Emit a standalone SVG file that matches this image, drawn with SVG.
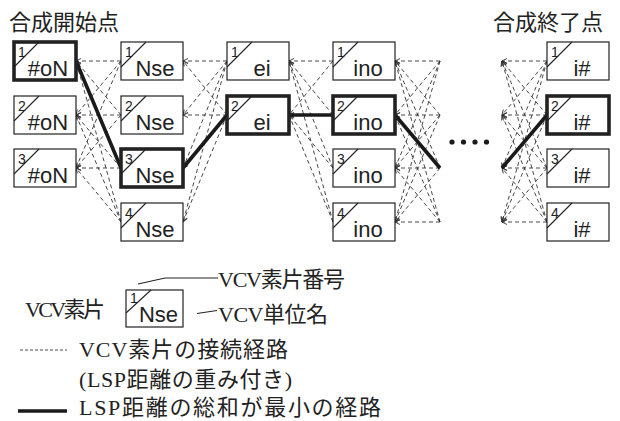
<svg xmlns="http://www.w3.org/2000/svg" width="620" height="421" viewBox="0 0 620 421">
<defs>
<marker id="arr" viewBox="0 0 6 6" refX="5.5" refY="3" markerWidth="6" markerHeight="6" markerUnits="userSpaceOnUse" orient="auto">
<path d="M0.5,0.5 L5.5,3 L0.5,5.5" fill="none" stroke="#333" stroke-width="0.9"/>
</marker>
</defs>
<style>
.box{fill:#fff;stroke:#222;stroke-width:1.2}
.bold{stroke-width:3.6}
.slash{stroke:#222;stroke-width:1.1}
.num{font-family:"Liberation Sans",Arial,sans-serif;font-size:14px;fill:#222}
.nm{font-family:"Liberation Sans",Arial,sans-serif;font-size:22px;fill:#222;text-anchor:middle}
.dash{stroke:#333;stroke-width:0.9;stroke-dasharray:4 3;fill:none;marker-end:url(#arr)}
.thick{stroke:#1a1a1a;stroke-width:3.6;fill:none}
.jp{font-family:"Liberation Serif","Noto Sans CJK JP",serif;font-size:22px;fill:#222}
.lead{stroke:#222;stroke-width:1.1;fill:none}
</style>
<rect width="620" height="421" fill="#fff"/>

<text class="jp" x="9" y="30" font-size="23">合成開始点</text>
<text class="jp" x="493" y="30" font-size="23">合成終了点</text>

<g id="connectors">
<!-- col2 -> col1 -->
<line class="dash" x1="121" y1="61" x2="76" y2="61"/>
<line class="dash" x1="121" y1="61" x2="76" y2="115"/>
<line class="dash" x1="121" y1="61" x2="76" y2="168"/>
<line class="dash" x1="121" y1="115" x2="76" y2="61"/>
<line class="dash" x1="121" y1="115" x2="76" y2="115"/>
<line class="dash" x1="121" y1="115" x2="76" y2="168"/>
<line class="dash" x1="121" y1="168" x2="76" y2="61"/>
<line class="dash" x1="121" y1="168" x2="76" y2="115"/>
<line class="dash" x1="121" y1="168" x2="76" y2="168"/>
<line class="dash" x1="121" y1="222" x2="76" y2="61"/>
<line class="dash" x1="121" y1="222" x2="76" y2="115"/>
<line class="dash" x1="121" y1="222" x2="76" y2="168"/>
<!-- col3 -> col2 -->
<line class="dash" x1="227" y1="61" x2="183" y2="61"/>
<line class="dash" x1="227" y1="61" x2="183" y2="115"/>
<line class="dash" x1="227" y1="61" x2="183" y2="168"/>
<line class="dash" x1="227" y1="61" x2="183" y2="222"/>
<line class="dash" x1="227" y1="115" x2="183" y2="61"/>
<line class="dash" x1="227" y1="115" x2="183" y2="115"/>
<line class="dash" x1="227" y1="115" x2="183" y2="168"/>
<line class="dash" x1="227" y1="115" x2="183" y2="222"/>
<!-- col4 -> col3 -->
<line class="dash" x1="333" y1="61" x2="289" y2="61"/>
<line class="dash" x1="333" y1="115" x2="289" y2="61"/>
<line class="dash" x1="333" y1="168" x2="289" y2="61"/>
<line class="dash" x1="333" y1="222" x2="289" y2="61"/>
<line class="dash" x1="333" y1="61" x2="289" y2="115"/>
<line class="dash" x1="333" y1="115" x2="289" y2="115"/>
<line class="dash" x1="333" y1="168" x2="289" y2="115"/>
<line class="dash" x1="333" y1="222" x2="289" y2="115"/>
<!-- open end -> col4 -->
<line class="dash" x1="440" y1="61" x2="395" y2="61"/>
<line class="dash" x1="440" y1="61" x2="395" y2="115"/>
<line class="dash" x1="440" y1="61" x2="395" y2="168"/>
<line class="dash" x1="440" y1="61" x2="395" y2="222"/>
<line class="dash" x1="440" y1="115" x2="395" y2="61"/>
<line class="dash" x1="440" y1="115" x2="395" y2="115"/>
<line class="dash" x1="440" y1="115" x2="395" y2="168"/>
<line class="dash" x1="440" y1="115" x2="395" y2="222"/>
<line class="dash" x1="440" y1="168" x2="395" y2="61"/>
<line class="dash" x1="440" y1="168" x2="395" y2="115"/>
<line class="dash" x1="440" y1="168" x2="395" y2="168"/>
<line class="dash" x1="440" y1="168" x2="395" y2="222"/>
<line class="dash" x1="440" y1="222" x2="395" y2="61"/>
<line class="dash" x1="440" y1="222" x2="395" y2="115"/>
<line class="dash" x1="440" y1="222" x2="395" y2="168"/>
<line class="dash" x1="440" y1="222" x2="395" y2="222"/>
<!-- col5 -> open end -->
<line class="dash" x1="547" y1="61" x2="502" y2="61"/>
<line class="dash" x1="547" y1="61" x2="502" y2="115"/>
<line class="dash" x1="547" y1="61" x2="502" y2="168"/>
<line class="dash" x1="547" y1="61" x2="502" y2="222"/>
<line class="dash" x1="547" y1="115" x2="502" y2="61"/>
<line class="dash" x1="547" y1="115" x2="502" y2="115"/>
<line class="dash" x1="547" y1="115" x2="502" y2="168"/>
<line class="dash" x1="547" y1="115" x2="502" y2="222"/>
<line class="dash" x1="547" y1="168" x2="502" y2="61"/>
<line class="dash" x1="547" y1="168" x2="502" y2="115"/>
<line class="dash" x1="547" y1="168" x2="502" y2="168"/>
<line class="dash" x1="547" y1="168" x2="502" y2="222"/>
<line class="dash" x1="547" y1="222" x2="502" y2="61"/>
<line class="dash" x1="547" y1="222" x2="502" y2="115"/>
<line class="dash" x1="547" y1="222" x2="502" y2="168"/>
<line class="dash" x1="547" y1="222" x2="502" y2="222"/>
<!-- best path -->
<path class="thick" d="M76,61 L121,168 M183,168 L227,115 M289,115 L333,115 M395,115 L440,168 M502,168 L547,115"/>
<g fill="#1a1a1a">
<circle cx="452" cy="142" r="2.6"/><circle cx="463.5" cy="142" r="2.6"/><circle cx="475" cy="142" r="2.6"/><circle cx="486.5" cy="142" r="2.6"/>
</g>
</g>

<!-- column 1 -->
<g id="n1-1"><rect class="box bold" x="14" y="42" width="62" height="38"/><line class="slash" x1="14" y1="67" x2="39" y2="42"/><text class="num" x="18" y="57">1</text><text class="nm" x="48" y="76">#oN</text></g>
<g id="n1-2"><rect class="box" x="14" y="96" width="62" height="38"/><line class="slash" x1="14" y1="121" x2="39" y2="96"/><text class="num" x="18" y="111">2</text><text class="nm" x="48" y="130">#oN</text></g>
<g id="n1-3"><rect class="box" x="14" y="149" width="62" height="38"/><line class="slash" x1="14" y1="174" x2="39" y2="149"/><text class="num" x="18" y="164">3</text><text class="nm" x="48" y="183">#oN</text></g>
<!-- column 2 -->
<g id="n2-1"><rect class="box" x="121" y="42" width="62" height="38"/><line class="slash" x1="121" y1="67" x2="146" y2="42"/><text class="num" x="125" y="57">1</text><text class="nm" x="155" y="76">Nse</text></g>
<g id="n2-2"><rect class="box" x="121" y="96" width="62" height="38"/><line class="slash" x1="121" y1="121" x2="146" y2="96"/><text class="num" x="125" y="111">2</text><text class="nm" x="155" y="130">Nse</text></g>
<g id="n2-3"><rect class="box bold" x="121" y="149" width="62" height="38"/><line class="slash" x1="121" y1="174" x2="146" y2="149"/><text class="num" x="125" y="164">3</text><text class="nm" x="155" y="183">Nse</text></g>
<g id="n2-4"><rect class="box" x="121" y="203" width="62" height="38"/><line class="slash" x1="121" y1="228" x2="146" y2="203"/><text class="num" x="125" y="218">4</text><text class="nm" x="155" y="237">Nse</text></g>
<!-- column 3 -->
<g id="n3-1"><rect class="box" x="227" y="42" width="62" height="38"/><line class="slash" x1="227" y1="67" x2="252" y2="42"/><text class="num" x="231" y="57">1</text><text class="nm" x="262" y="76">ei</text></g>
<g id="n3-2"><rect class="box bold" x="227" y="96" width="62" height="38"/><line class="slash" x1="227" y1="121" x2="252" y2="96"/><text class="num" x="231" y="111">2</text><text class="nm" x="262" y="130">ei</text></g>
<!-- column 4 -->
<g id="n4-1"><rect class="box" x="333" y="42" width="62" height="38"/><line class="slash" x1="333" y1="67" x2="358" y2="42"/><text class="num" x="337" y="57">1</text><text class="nm" x="368" y="76">ino</text></g>
<g id="n4-2"><rect class="box bold" x="333" y="96" width="62" height="38"/><line class="slash" x1="333" y1="121" x2="358" y2="96"/><text class="num" x="337" y="111">2</text><text class="nm" x="368" y="130">ino</text></g>
<g id="n4-3"><rect class="box" x="333" y="149" width="62" height="38"/><line class="slash" x1="333" y1="174" x2="358" y2="149"/><text class="num" x="337" y="164">3</text><text class="nm" x="368" y="183">ino</text></g>
<g id="n4-4"><rect class="box" x="333" y="203" width="62" height="38"/><line class="slash" x1="333" y1="228" x2="358" y2="203"/><text class="num" x="337" y="218">4</text><text class="nm" x="368" y="237">ino</text></g>
<!-- column 5 -->
<g id="n5-1"><rect class="box" x="547" y="42" width="62" height="38"/><line class="slash" x1="547" y1="67" x2="572" y2="42"/><text class="num" x="551" y="57">1</text><text class="nm" x="582" y="76">i#</text></g>
<g id="n5-2"><rect class="box bold" x="547" y="96" width="62" height="38"/><line class="slash" x1="547" y1="121" x2="572" y2="96"/><text class="num" x="551" y="111">2</text><text class="nm" x="582" y="130">i#</text></g>
<g id="n5-3"><rect class="box" x="547" y="149" width="62" height="38"/><line class="slash" x1="547" y1="174" x2="572" y2="149"/><text class="num" x="551" y="164">3</text><text class="nm" x="582" y="183">i#</text></g>
<g id="n5-4"><rect class="box" x="547" y="203" width="62" height="38"/><line class="slash" x1="547" y1="228" x2="572" y2="203"/><text class="num" x="551" y="218">4</text><text class="nm" x="582" y="237">i#</text></g>

<!-- legend -->
<g id="legend">
<text class="jp" x="25" y="317" textLength="80">VCV素片</text>
<rect class="box" x="126" y="290" width="57" height="37"/>
<line class="slash" x1="126" y1="313" x2="151" y2="290"/>
<text class="num" x="130" y="303" font-size="13">1</text>
<text class="nm" x="158.5" y="322" font-size="20">Nse</text>
<polyline class="lead" points="138,284 165,278 218,278"/>
<text class="jp" x="218" y="287" textLength="127">VCV素片番号</text>
<line class="lead" x1="197" y1="313.5" x2="217" y2="310.5"/>
<text class="jp" x="218" y="322" textLength="110">VCV単位名</text>
<line x1="20" y1="350" x2="67" y2="350" stroke="#333" stroke-width="0.9" stroke-dasharray="3 2"/>
<text class="jp" x="79" y="357" textLength="209">VCV素片の接続経路</text>
<text class="jp" x="79" y="387" textLength="213">(LSP距離の重み付き)</text>
<line x1="18" y1="411" x2="67" y2="411" stroke="#1a1a1a" stroke-width="3.6"/>
<text class="jp" x="79" y="415" textLength="302">LSP距離の総和が最小の経路</text>
</g>
</svg>
